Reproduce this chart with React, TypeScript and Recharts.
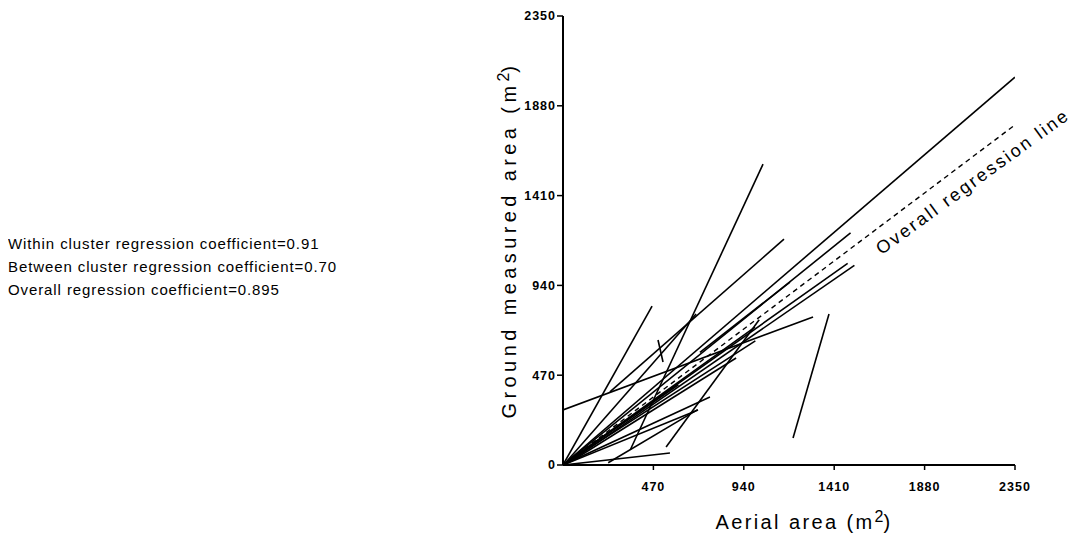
import React from 'react';
import { ComposedChart, Line, XAxis, YAxis } from 'recharts';

// Within-cluster regression segments (start/end in m²)
const segStartX = [0, 0, 0, 40, 0, 1196, 0, 350, 244, 494, 20, 712, 0, 0, 0, 536, 235, 0, 0, 60, 0];
const segStartY = [0, 0, 0, 20, 288, 141, 0, 80, 383, 654, 20, 590, 0, 0, 0, 94, 12, 0, 0, 30, 0];
const segEndX = [2350, 1495, 1480, 1515, 1300, 1383, 463, 1040, 1149, 520, 692, 1180, 764, 702, 556, 1020, 700, 998, 1000, 900, 600];
const segEndY = [2030, 1215, 1055, 1045, 775, 790, 832, 1575, 1182, 539, 790, 957, 356, 288, 63, 760, 290, 722, 650, 560, 420];

// Overall regression line
const overallX = [0, 2350];
const overallY = [0, 1780];

const xTicks = [470, 940, 1410, 1880, 2350];
const yTicks = [0, 470, 940, 1410, 1880, 2350];

const coefficientLines = [
  'Within cluster regression coefficient=0.91',
  'Between cluster regression coefficient=0.70',
  'Overall regression coefficient=0.895',
];

const segments = segStartX.map((_, i) => [
  { x: segStartX[i], y: segStartY[i] },
  { x: segEndX[i], y: segEndY[i] },
]);
const overallData = overallX.map((x, i) => ({ x, y: overallY[i] }));

const FONT = '"Liberation Sans", Arial, Helvetica, sans-serif';
const tickStyle = { fill: '#000', fontSize: 12.5, fontWeight: 700, fontFamily: FONT, letterSpacing: 1 };

export default function App() {
  return (
    <div style={{ position: 'relative', width: 1066, height: 529, background: '#fff', fontFamily: FONT, color: '#000' }}>
      <ComposedChart
        width={1066}
        height={529}
        margin={{ top: 8, right: 59, bottom: 32, left: 505 }}
      >
        <XAxis
          type="number"
          dataKey="x"
          domain={[0, 2350]}
          ticks={xTicks}
          allowDataOverflow
          height={40}
          stroke="#000"
          strokeWidth={2}
          tickSize={5}
          tickMargin={12}
          tick={tickStyle}
          tickLine={{ stroke: '#000', strokeWidth: 1.5 }}
        />
        <YAxis
          type="number"
          dataKey="y"
          domain={[0, 2350]}
          ticks={yTicks}
          allowDataOverflow
          width={50}
          stroke="#000"
          strokeWidth={2}
          tickSize={6}
          tickMargin={1}
          tick={tickStyle}
          tickLine={{ stroke: '#000', strokeWidth: 1.5 }}
        />
        {segments.map((seg, i) => (
          <Line
            key={i}
            data={seg}
            dataKey="y"
            type="linear"
            stroke="#000"
            strokeWidth={1.6}
            dot={false}
            activeDot={false}
            isAnimationActive={false}
          />
        ))}
        <Line
          data={overallData}
          dataKey="y"
          type="linear"
          stroke="#000"
          strokeWidth={1.4}
          strokeDasharray="5 4"
          dot={false}
          activeDot={false}
          isAnimationActive={false}
        />
      </ComposedChart>

      <div
        style={{
          position: 'absolute',
          left: 0,
          top: 224,
          fontSize: 15,
          lineHeight: '23px',
          letterSpacing: 0.9,
          whiteSpace: 'nowrap',
        }}
      >
        {coefficientLines.map((t) => (
          <div key={t}>{t}</div>
        ))}
      </div>

      <div
        style={{
          position: 'absolute',
          left: 500,
          top: 232,
          transform: 'translate(-50%, -50%) rotate(-90deg)',
          fontSize: 20,
          letterSpacing: 4.4,
          whiteSpace: 'nowrap',
        }}
      >
        Ground measured area (m<sup style={{ fontSize: '0.8em', letterSpacing: 0 }}>2</sup>)
      </div>

      <div
        style={{
          position: 'absolute',
          left: 796,
          top: 513,
          transform: 'translate(-50%, -50%)',
          fontSize: 20,
          letterSpacing: 2.4,
          whiteSpace: 'nowrap',
        }}
      >
        Aerial area (m<sup style={{ fontSize: '0.8em', letterSpacing: 0 }}>2</sup>)
      </div>

      <div
        style={{
          position: 'absolute',
          left: 965,
          top: 174,
          transform: 'translate(-50%, -50%) rotate(-36deg)',
          fontSize: 18,
          letterSpacing: 2.4,
          whiteSpace: 'nowrap',
        }}
      >
        Overall regression line
      </div>
    </div>
  );
}
